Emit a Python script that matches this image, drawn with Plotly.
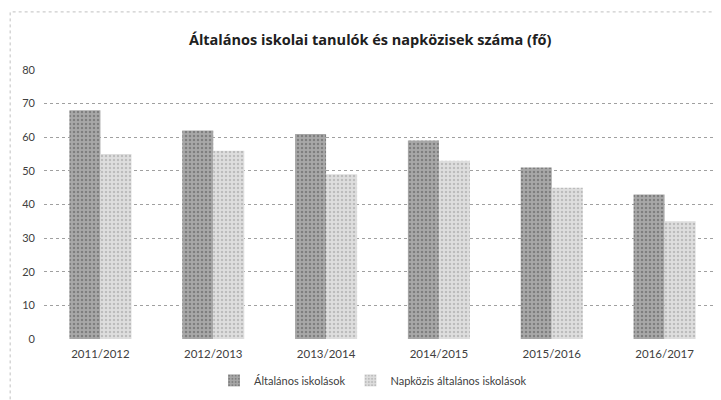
import plotly.graph_objects as go

categories = ["2011/2012", "2012/2013", "2013/2014", "2014/2015", "2015/2016", "2016/2017"]
altalanos = [68, 62, 61, 59, 51, 43]
napkozis = [55, 56, 49, 53, 45, 35]
series_names = ["Általános iskolások", "Napközis általános iskolások"]
title_text = "Általános iskolai tanulók és napközisek száma (fő)"
y_ticks = [0, 10, 20, 30, 40, 50, 60, 70, 80]

fig = go.Figure()
fig.add_trace(go.Bar(
    x=categories, y=altalanos, name=series_names[0],
    marker=dict(color="#8a8a8a", line=dict(width=0),
                pattern=dict(shape=".", fgcolor="#555555", bgcolor="#a8a8a8", size=4, solidity=0.3)),
))
fig.add_trace(go.Bar(
    x=categories, y=napkozis, name=series_names[1],
    marker=dict(color="#c8c8c8", line=dict(width=0),
                pattern=dict(shape=".", fgcolor="#9a9a9a", bgcolor="#dedede", size=4, solidity=0.3)),
))

fig.update_layout(
    width=713, height=392,
    margin=dict(l=36, r=0, t=62, b=61),
    paper_bgcolor="white", plot_bgcolor="white",
    font=dict(family="Lato, Open Sans, sans-serif", size=11, color="#404040"),
    title=dict(text=title_text, x=0.508, xanchor="center", y=0.918, yanchor="middle",
               font=dict(family="Open Sans, Lato, sans-serif", size=14.5, color="#202020", weight="bold")),
    barmode="group", bargap=0.45, bargroupgap=0,
    showlegend=True,
    legend=dict(orientation="h", x=0.486, xanchor="center", y=-0.1, yanchor="top",
                font=dict(size=11, color="#404040"), itemwidth=30),
    xaxis=dict(showline=False, ticks="", tickfont=dict(size=11.5, color="#404040"), showgrid=False,
               ticklabelstandoff=6),
    yaxis=dict(range=[0, 80], tickvals=y_ticks, showline=False, ticks="",
               gridcolor="#a0a0a0", griddash="dot", gridwidth=1, zeroline=False,
               tickfont=dict(size=11, color="#404040"), ticklabelstandoff=8),
)
fig.add_shape(type="rect", xref="paper", yref="paper", x0=-0.05, x1=1.0, y0=-0.3, y1=1.216,
              line=dict(color="#c0c0c0", width=1, dash="dot"))
fig.write_html("out.html")
